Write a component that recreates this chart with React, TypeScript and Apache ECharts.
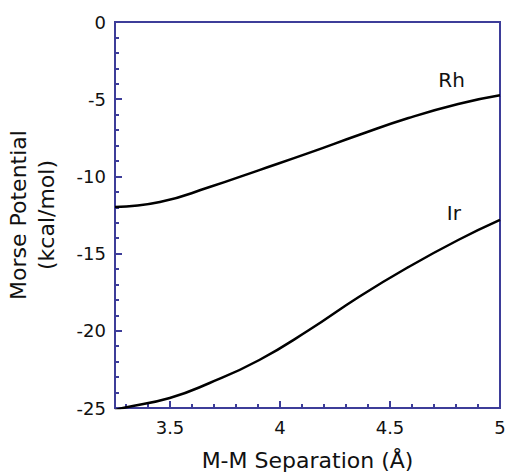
import React, { useEffect, useRef } from "react";
import * as echarts from "echarts";

const rhX = [3.25, 3.454, 3.68, 3.906, 4.132, 4.358, 4.584, 4.81, 5.0];
const rhY = [-11.98, -11.66, -10.69, -9.59, -8.48, -7.32, -6.22, -5.31, -4.75];
const irX = [3.25, 3.286, 3.499, 3.68, 3.906, 4.132, 4.358, 4.584, 4.81, 5.0];
const irY = [-25.15, -25.0, -24.35, -23.38, -21.89, -19.95, -17.81, -15.87, -14.12, -12.82];
const xMajorTicks = [3.5, 4, 4.5, 5];
const xMinorTicks = [3.3, 3.4, 3.6, 3.7, 3.8, 3.9, 4.1, 4.2, 4.3, 4.4, 4.6, 4.7, 4.8, 4.9];
const seriesNames = ["Rh", "Ir"];
const labelPos = [
  [4.78, -3.76],
  [4.79, -12.4],
];

const AXIS = "#3d3d99";
const FONT = "DejaVu Sans";

export default function App() {
  const ref = useRef<HTMLDivElement>(null);
  useEffect(() => {
    document.body.style.margin = "0";
    const chart = echarts.init(ref.current!, null, { renderer: "svg" });
    const xBase = {
      type: "value",
      min: 3.25,
      max: 5,
      position: "bottom",
      splitLine: { show: false },
    };
    const mk = (xs: number[], ys: number[], name: string, lp: number[]) => ({
      type: "line",
      name,
      data: xs.map((x, i) => [x, ys[i]]),
      smooth: 0.5,
      showSymbol: false,
      symbol: "none",
      clip: true,
      lineStyle: { color: "#000", width: 2.5 },
      markPoint: {
        symbol: "circle",
        symbolSize: 0,
        data: [{ coord: lp }],
        label: {
          show: true,
          formatter: name,
          color: "#111",
          fontFamily: FONT,
          fontSize: 20,
          position: "inside",
        },
      },
    });
    chart.setOption({
      animation: false,
      backgroundColor: "#fff",
      grid: {
        left: 115,
        top: 22,
        right: 6,
        bottom: 67,
        containLabel: false,
        outerBoundsMode: "none",
        show: true,
        borderColor: AXIS,
        borderWidth: 2,
        backgroundColor: "transparent",
      },
      xAxis: [
        {
          ...xBase,
          name: "M-M Separation (Å)",
          nameLocation: "middle",
          nameGap: 41,
          nameTextStyle: { fontFamily: FONT, fontSize: 22, color: "#111" },
          axisLine: { show: true, onZero: false, lineStyle: { color: AXIS, width: 2 } },
          axisTick: {
            show: true,
            inside: true,
            length: 7,
            customValues: xMajorTicks,
            lineStyle: { color: AXIS, width: 2 },
          },
          axisLabel: {
            show: true,
            customValues: xMajorTicks,
            fontFamily: FONT,
            fontSize: 18,
            color: "#111",
            margin: 10,
          },
        },
        {
          ...xBase,
          axisLine: { show: false, onZero: false },
          axisTick: {
            show: true,
            inside: true,
            length: 4,
            customValues: xMinorTicks,
            lineStyle: { color: AXIS, width: 2 },
          },
          axisLabel: { show: false },
        },
      ],
      yAxis: {
        type: "value",
        min: -25,
        max: 0,
        interval: 5,
        name: "Morse Potential\n(kcal/mol)",
        nameLocation: "middle",
        nameGap: 55,
        nameTextStyle: { fontFamily: FONT, fontSize: 22, color: "#111", lineHeight: 28 },
        splitLine: { show: false },
        axisLine: { show: true, lineStyle: { color: AXIS, width: 2 } },
        axisTick: { show: true, inside: true, length: 7, lineStyle: { color: AXIS, width: 2 } },
        minorTick: { show: true, splitNumber: 5, length: 4, lineStyle: { color: AXIS, width: 2 } },
        axisLabel: { fontFamily: FONT, fontSize: 18, color: "#111", margin: 9 },
      },
      series: [
        mk(rhX, rhY, seriesNames[0], labelPos[0]),
        mk(irX, irY, seriesNames[1], labelPos[1]),
      ],
    });
    return () => chart.dispose();
  }, []);
  return <div ref={ref} style={{ width: 506, height: 475 }} />;
}
